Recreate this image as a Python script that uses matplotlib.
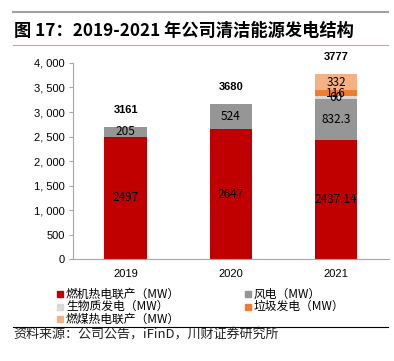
import matplotlib
matplotlib.use("Agg")
import matplotlib.pyplot as plt
from matplotlib.lines import Line2D
from matplotlib.patches import Rectangle
import numpy as np

plt.rcParams['font.family'] = ['Liberation Sans', 'Noto Sans CJK SC', 'DejaVu Sans']

years = ['2019', '2020', '2021']
gas_chp = [2497, 2647, 2437.14]       # 燃机热电联产
wind = [205, 524, 832.3]              # 风电
biomass = [0, 0, 60]                  # 生物质发电
waste = [0, 0, 116]                   # 垃圾发电
coal_chp = [0, 0, 332]                # 燃煤热电联产
totals = ['3161', '3680', '3777']

seg_labels = [
    ['2497', '2647', '2437.14'],
    ['205', '524', '832.3'],
    ['', '', '60'],
    ['', '', '116'],
    ['', '', '332'],
]

names = ['燃机热电联产（MW）', '风电（MW）', '生物质发电（MW）', '垃圾发电（MW）', '燃煤热电联产（MW）']
colors = ['#C00000', '#969696', '#D9D9D9', '#ED7D31', '#F4B183']
series = [gas_chp, wind, biomass, waste, coal_chp]

W, H = 394, 361
fig = plt.figure(figsize=(3.94, 3.61), dpi=100)
ax = fig.add_axes([0.185, 0.2825, 0.802, 0.543])

x = np.arange(len(years))
bottom = np.zeros(len(years))
for s, c, labs in zip(series, colors, seg_labels):
    s = np.array(s, dtype=float)
    ax.bar(x, s, 0.4, bottom=bottom, color=c, zorder=2)
    for i in range(len(years)):
        if labs[i]:
            ax.text(x[i], bottom[i] + s[i] / 2, labs[i], ha='center', va='center',
                    fontsize=8.5, color='black', family=['Noto Sans CJK SC'])
    bottom += s

for i in range(len(years)):
    ax.annotate(totals[i], (x[i], bottom[i]), xytext=(0, 12), textcoords='offset points',
                ha='center', va='center', fontsize=8, fontweight='bold')

ax.set_xlim(-0.5, 2.5)
ax.set_ylim(0, 4000)
ax.set_yticks(np.arange(0, 4001, 500))
ax.set_yticklabels(['{:,}'.format(v).replace(',', ', ') for v in range(0, 4001, 500)], fontsize=8)
ax.set_xticks(x)
ax.set_xticklabels(years, fontsize=8)
for sp in ['top', 'right']:
    ax.spines[sp].set_visible(False)
for sp in ['left', 'bottom']:
    ax.spines[sp].set_color('#A6A6A6')
ax.tick_params(axis='y', length=3, color='#A6A6A6', pad=3)
ax.tick_params(axis='x', length=0, pad=7)

# legend laid out by hand: two columns, filled column-first
order = [0, 2, 4, 1, 3]
col_x = [57, 245]
row_y = [294, 306.5, 319]
for n, k in enumerate(order):
    col, row = (0, n) if n < 3 else (1, n - 3)
    px, py = col_x[col], row_y[row]
    fig.add_artist(Rectangle((px / W, (H - py - 3) / H), 6 / W, 6 / H,
                             color=colors[k], transform=fig.transFigure))
    fig.text((px + 9) / W, (H - py) / H, names[k], fontsize=8.5, va='center',
             family=['Noto Sans CJK SC'])

# title block
fig.text(0.035, 0.915, '图 17：2019-2021 年公司清洁能源发电结构', fontsize=12.4,
         fontweight='bold', va='center', family=['Noto Sans CJK SC'])
fig.add_artist(Line2D([0.033, 0.985], [0.967, 0.967], color='#A0A0A0', lw=1.5))
fig.add_artist(Line2D([0.033, 0.985], [0.875, 0.875], color='#E39A9A', lw=0.8))
fig.add_artist(Line2D([0.033, 0.985], [0.094, 0.094], color='black', lw=0.8))
fig.text(0.035, 0.075, '资料来源：公司公告，iFinD，川财证券研究所', fontsize=9.4,
         va='center', family=['Noto Sans CJK SC'], color='#222222')

fig.savefig('out.png', dpi=100)
